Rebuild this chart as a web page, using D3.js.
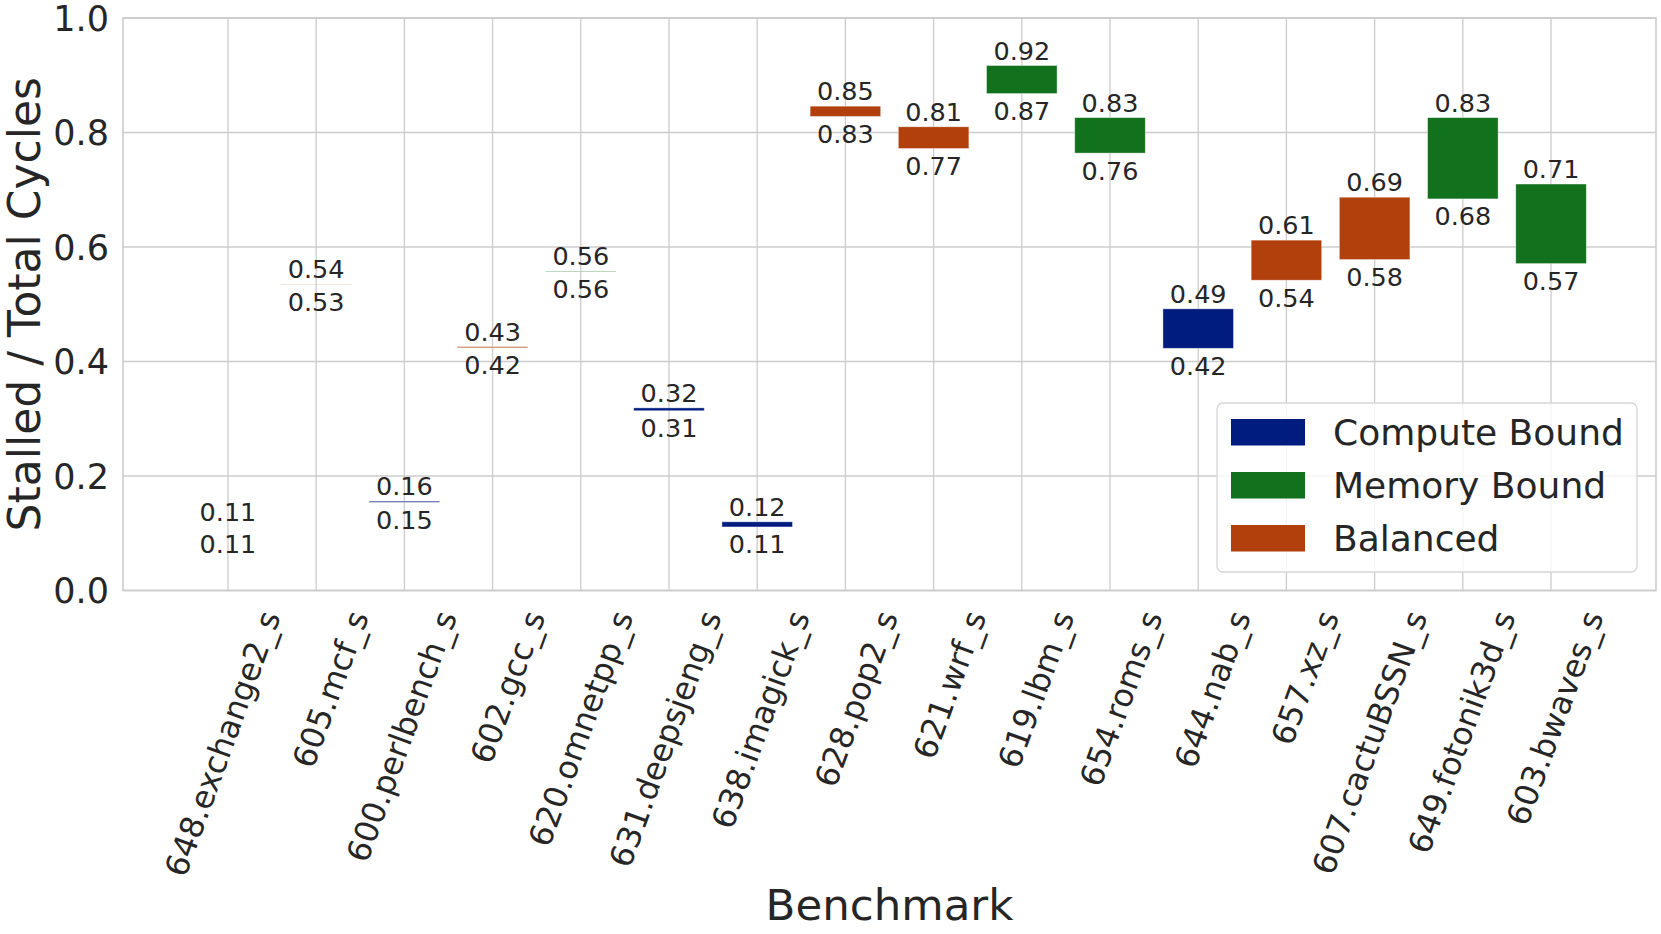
<!DOCTYPE html>
<html>
<head>
<meta charset="utf-8">
<script src="https://cdn.jsdelivr.net/npm/d3@7"></script>
<style>
  body { margin: 0; background: #fff; }
  svg { display: block; font-family: 'DejaVu Sans', sans-serif; }
</style>
</head>
<body>
<svg id="chart"></svg>
<script>
const benchmarks = ['648.exchange2_s', '605.mcf_s', '600.perlbench_s', '602.gcc_s', '620.omnetpp_s',
  '631.deepsjeng_s', '638.imagick_s', '628.pop2_s', '621.wrf_s', '619.lbm_s', '654.roms_s',
  '644.nab_s', '657.xz_s', '607.cactuBSSN_s', '649.fotonik3d_s', '603.bwaves_s'];
const lowVals = [0.111, 0.5348, 0.154, 0.424, 0.557, 0.314, 0.111, 0.828, 0.772, 0.868, 0.764,
  0.423, 0.542, 0.578, 0.684, 0.571];
const highVals = [0.111, 0.5352, 0.156, 0.426, 0.558, 0.319, 0.120, 0.846, 0.810, 0.917, 0.826,
  0.492, 0.612, 0.687, 0.826, 0.710];
const boundType = ['Compute Bound', 'Balanced', 'Compute Bound', 'Balanced', 'Memory Bound',
  'Compute Bound', 'Compute Bound', 'Balanced', 'Balanced', 'Memory Bound', 'Memory Bound',
  'Compute Bound', 'Balanced', 'Balanced', 'Memory Bound', 'Memory Bound'];
const legendNames = ['Compute Bound', 'Memory Bound', 'Balanced'];
const legendColors = ['#001c7f', '#12711c', '#b1400d'];
const yTicks = [0, 0.2, 0.4, 0.6, 0.8, 1.0];

const width = 1661;
const height = 934;
const margin = { top: 18, right: 5, bottom: 343.5, left: 123 };

const svg = d3.select('#chart').attr('width', width).attr('height', height);

const x = d3.scalePoint()
  .domain(benchmarks)
  .range([margin.left, width - margin.right])
  .padding(1.19);
const y = d3.scaleLinear().domain([0, 1]).range([height - margin.bottom, margin.top]);
const color = d3.scaleOrdinal().domain(legendNames).range(legendColors);

const barW = x.step() * 0.8;
const fmt = d3.format('.2f');

const rows = benchmarks.map((b, i) => ({ name: b, lo: lowVals[i], hi: highVals[i], type: boundType[i] }));

// grid
const grid = svg.append('g').attr('stroke', '#cccccc').attr('stroke-width', 1.3);
grid.selectAll('line.h')
  .data(yTicks)
  .join('line')
  .attr('x1', margin.left)
  .attr('x2', width - margin.right)
  .attr('y1', (d) => y(d))
  .attr('y2', (d) => y(d));
grid.selectAll('line.v')
  .data(benchmarks)
  .join('line')
  .attr('x1', (d) => x(d))
  .attr('x2', (d) => x(d))
  .attr('y1', y(0))
  .attr('y2', y(1));

// frame
svg.append('rect')
  .attr('x', margin.left)
  .attr('y', y(1))
  .attr('width', width - margin.right - margin.left)
  .attr('height', y(0) - y(1))
  .attr('fill', 'none')
  .attr('stroke', '#cccccc')
  .attr('stroke-width', 1.6);

// floating bars
svg.append('g')
  .selectAll('rect')
  .data(rows)
  .join('rect')
  .attr('x', (d) => x(d.name) - barW / 2)
  .attr('y', (d) => y(d.hi))
  .attr('width', barW)
  .attr('height', (d) => y(d.lo) - y(d.hi))
  .attr('fill', (d) => color(d.type))
  .attr('stroke', '#ffffff')
  .attr('stroke-opacity', 0.5)
  .attr('stroke-width', 0.8);

// value labels
const lbl = svg.append('g').attr('fill', '#262626').attr('font-size', 25.5).attr('text-anchor', 'middle');
lbl.selectAll('text.hi')
  .data(rows)
  .join('text')
  .attr('class', 'hi')
  .attr('x', (d) => x(d.name))
  .attr('y', (d) => y(d.hi) - 6)
  .text((d) => fmt(d.hi));
lbl.selectAll('text.lo')
  .data(rows)
  .join('text')
  .attr('class', 'lo')
  .attr('x', (d) => x(d.name))
  .attr('y', (d) => y(d.lo) + 26.5)
  .text((d) => fmt(d.lo));

// y axis labels
svg.append('g')
  .selectAll('text')
  .data(yTicks)
  .join('text')
  .attr('x', margin.left - 14)
  .attr('y', (d) => y(d))
  .attr('dy', '0.36em')
  .attr('text-anchor', 'end')
  .attr('font-size', 35)
  .attr('fill', '#262626')
  .text((d) => d3.format('.1f')(d));

// x axis labels
svg.append('g')
  .selectAll('text')
  .data(benchmarks)
  .join('text')
  .attr('transform', (d) => `translate(${x(d) + 53},616) rotate(-70)`)
  .attr('text-anchor', 'end')
  .attr('font-size', 32)
  .attr('fill', '#262626')
  .text((d) => d);

// axis titles
svg.append('text')
  .attr('transform', `translate(40,${(y(0) + y(1)) / 2}) rotate(-90)`)
  .attr('text-anchor', 'middle')
  .attr('font-size', 44)
  .attr('fill', '#262626')
  .text('Stalled / Total Cycles');

svg.append('text')
  .attr('x', (margin.left + width - margin.right) / 2)
  .attr('y', 920)
  .attr('text-anchor', 'middle')
  .attr('font-size', 43.5)
  .attr('fill', '#262626')
  .text('Benchmark');

// legend
const leg = svg.append('g');
leg.append('rect')
  .attr('x', 1217)
  .attr('y', 403)
  .attr('width', 420)
  .attr('height', 169)
  .attr('rx', 6)
  .attr('fill', '#ffffff')
  .attr('fill-opacity', 0.8)
  .attr('stroke', '#d6d6d6')
  .attr('stroke-width', 1.3);
const items = leg.selectAll('g')
  .data(legendNames)
  .join('g')
  .attr('transform', (d, i) => `translate(1231,${419 + i * 53})`);
items.append('rect')
  .attr('width', 74)
  .attr('height', 26.5)
  .attr('fill', (d) => color(d));
items.append('text')
  .attr('x', 102)
  .attr('y', 13)
  .attr('dy', '0.36em')
  .attr('font-size', 36)
  .attr('fill', '#262626')
  .text((d) => d);
</script>
</body>
</html>
